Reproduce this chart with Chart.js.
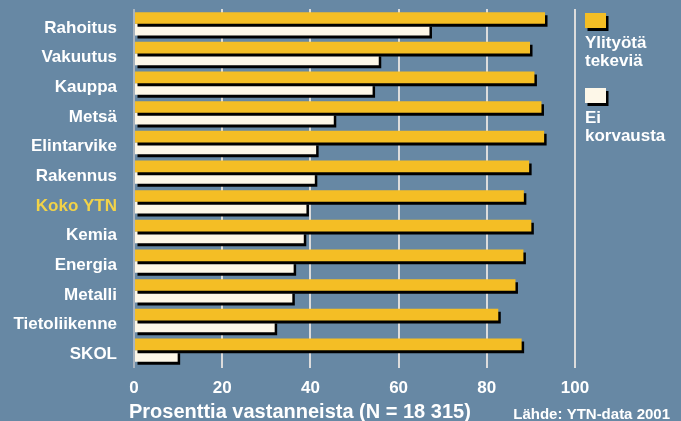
<!DOCTYPE html>
<html>
<head>
<meta charset="utf-8">
<script src="https://cdn.jsdelivr.net/npm/chart.js@4/dist/chart.umd.min.js"></script>
<style>
  html, body { margin: 0; padding: 0; background: #6788a4; }
  #wrap { width: 681px; height: 421px; }
</style>
</head>
<body>
<div id="wrap"><canvas id="chart" width="681" height="421"></canvas></div>
<script>
// data
const categories = ['Rahoitus', 'Vakuutus', 'Kauppa', 'Metsä', 'Elintarvike', 'Rakennus',
    'Koko YTN', 'Kemia', 'Energia', 'Metalli', 'Tietoliikenne', 'SKOL'];
const ylityotaTekevia = [93.2, 89.8, 90.8, 92.4, 93.0, 89.6, 88.4, 90.1, 88.3, 86.5, 82.6, 87.9];
const eiKorvausta = [67.0, 55.5, 54.1, 45.3, 41.3, 41.0, 39.1, 38.5, 36.2, 35.9, 31.9, 9.9];
const xTicks = [0, 20, 40, 60, 80, 100];
const seriesNames = [['Ylityötä', 'tekeviä'], ['Ei', 'korvausta']];
const axisTitle = 'Prosenttia vastanneista (N = 18 315)';
const sourceText = 'Lähde: YTN-data 2001';

const ORANGE = '#f4be25';
const CREAM = '#fdf7e8';
const FONT = '"Liberation Sans", Arial, sans-serif';

// black drop shadow under the bars
const shadowPlugin = {
    id: 'barShadow',
    beforeDatasetsDraw(chart) {
        const ctx = chart.ctx;
        ctx.save();
        ctx.shadowColor = '#000';
        ctx.shadowOffsetX = 2.5;
        ctx.shadowOffsetY = 3;
        ctx.shadowBlur = 0;
    },
    afterDatasetsDraw(chart) {
        chart.ctx.restore();
    }
};

// legend on the right + texts under the axis
const extrasPlugin = {
    id: 'extras',
    afterDraw(chart) {
        const ctx = chart.ctx;
        ctx.save();
        const colors = [ORANGE, CREAM];
        const tops = [13, 88];
        colors.forEach((c, i) => {
            ctx.fillStyle = '#000';
            ctx.fillRect(587.5, tops[i] + 3, 21, 15);
            ctx.fillStyle = c;
            ctx.fillRect(585, tops[i], 21, 15);
            ctx.fillStyle = '#fff';
            ctx.font = 'bold 17px ' + FONT;
            ctx.textAlign = 'left';
            ctx.textBaseline = 'middle';
            ctx.fillText(seriesNames[i][0], 585, tops[i] + 30);
            ctx.fillText(seriesNames[i][1], 585, tops[i] + 48);
        });

        ctx.fillStyle = '#fff';
        ctx.textBaseline = 'middle';
        ctx.font = 'bold 20px ' + FONT;
        ctx.textAlign = 'left';
        ctx.fillText(axisTitle, 129, 412);
        ctx.font = 'bold 15px ' + FONT;
        ctx.textAlign = 'right';
        ctx.fillText(sourceText, 670, 414.5);
        ctx.restore();
    }
};

new Chart(document.getElementById('chart'), {
    type: 'bar',
    data: {
        labels: categories,
        datasets: [
            {
                label: seriesNames[0].join(' '),
                data: ylityotaTekevia,
                backgroundColor: ORANGE,
                borderWidth: 0,
                barPercentage: 1,
                categoryPercentage: 0.785
            },
            {
                label: seriesNames[1].join(' '),
                data: eiKorvausta,
                backgroundColor: CREAM,
                borderWidth: 0,
                barPercentage: 1,
                categoryPercentage: 0.785
            }
        ]
    },
    options: {
        indexAxis: 'y',
        responsive: false,
        animation: false,
        layout: { padding: { top: 9, right: 106, left: 0, bottom: 0 } },
        plugins: {
            legend: { display: false },
            tooltip: { enabled: false }
        },
        scales: {
            y: {
                grid: { display: false },
                border: { display: false },
                ticks: {
                    padding: 9,
                    labelOffset: 4,
                    font: { family: FONT, size: 17, weight: 'bold' },
                    color: ctx => categories[ctx.index] === 'Koko YTN' ? '#f2d348' : '#ffffff'
                },
                afterFit: s => {
                    s.width = 134;
                    s.paddingTop = 0;
                    s.paddingBottom = 0;
                }
            },
            x: {
                min: 0,
                max: 100,
                afterBuildTicks: s => { s.ticks = xTicks.map(v => ({ value: v })); },
                grid: {
                    color: ctx => ctx.tick && ctx.tick.value === 0 ? '#a9b4bf' : '#dcdcdc',
                    lineWidth: 2,
                    tickLength: 3
                },
                border: { display: false },
                ticks: {
                    padding: 10,
                    font: { family: FONT, size: 17, weight: 'bold' },
                    color: '#ffffff'
                },
                afterFit: s => { s.height = 56; }
            }
        }
    },
    plugins: [shadowPlugin, extrasPlugin]
});
</script>
</body>
</html>
